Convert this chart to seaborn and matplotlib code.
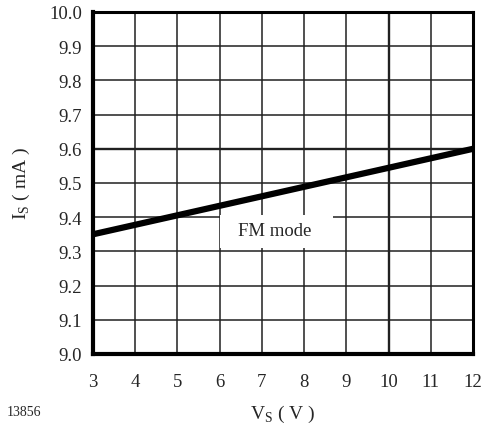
import numpy as np
import pandas as pd
import matplotlib
matplotlib.use('Agg')
import matplotlib.pyplot as plt
import seaborn as sns

# supply voltage vs supply current (FM mode)
vs = [3, 12]
i_s = [9.35, 9.60]
x_ticks = [3, 4, 5, 6, 7, 8, 9, 10, 11, 12]
y_ticks = [9.0, 9.1, 9.2, 9.3, 9.4, 9.5, 9.6, 9.7, 9.8, 9.9, 10.0]

df = pd.DataFrame({'Vs': vs, 'Is': i_s})

sns.set_style('white')
plt.rcParams['font.family'] = ['Liberation Serif', 'DejaVu Serif']

fig = plt.figure(figsize=(4.83, 4.27), dpi=100)
ax = fig.add_axes([93 / 483, 1 - 355 / 427, 380 / 483, 342 / 427])

# grid
for x in x_ticks[1:-1]:
    lw = 1.7 if x == 10 else 1.1
    ax.axvline(x, color='#202020', lw=lw, zorder=1)
for y in y_ticks[1:-1]:
    lw = 1.7 if abs(y - 9.6) < 1e-9 else 1.1
    ax.axhline(y, color='#202020', lw=lw, zorder=1)

# white box behind the label
ax.fill_between([6.0, 8.68], 9.31, 9.405, color='white', lw=0, zorder=2)
ax.text(7.3, 9.36, 'FM mode', ha='center', va='center', fontsize=13.5, zorder=3)

sns.lineplot(data=df, x='Vs', y='Is', color='black', lw=4.5, ax=ax, zorder=4)

ax.set_xlim(3, 12)
ax.set_ylim(9.0, 10.0)
ax.set_xticks(x_ticks)
ax.set_yticks(y_ticks)
ax.set_yticklabels(['%.1f' % y for y in y_ticks])
ax.tick_params(labelsize=13.5, length=0)
ax.tick_params(axis='x', pad=14)
ax.tick_params(axis='y', pad=8)

for side in ['left', 'bottom']:
    ax.spines[side].set_linewidth(3)
for side in ['top', 'right']:
    ax.spines[side].set_linewidth(2.2)
for s in ax.spines.values():
    s.set_color('black')
    s.set_zorder(5)

ax.set_xlabel('V$_\\mathregular{S}$ ( V )', fontsize=14, labelpad=9)
ax.set_ylabel('I$_\\mathregular{S}$ ( mA )', fontsize=14, labelpad=12)

fig.text(7 / 483, 1 - 413 / 427, '13856', fontsize=10, va='center')

fig.savefig('out.png', dpi=100)
